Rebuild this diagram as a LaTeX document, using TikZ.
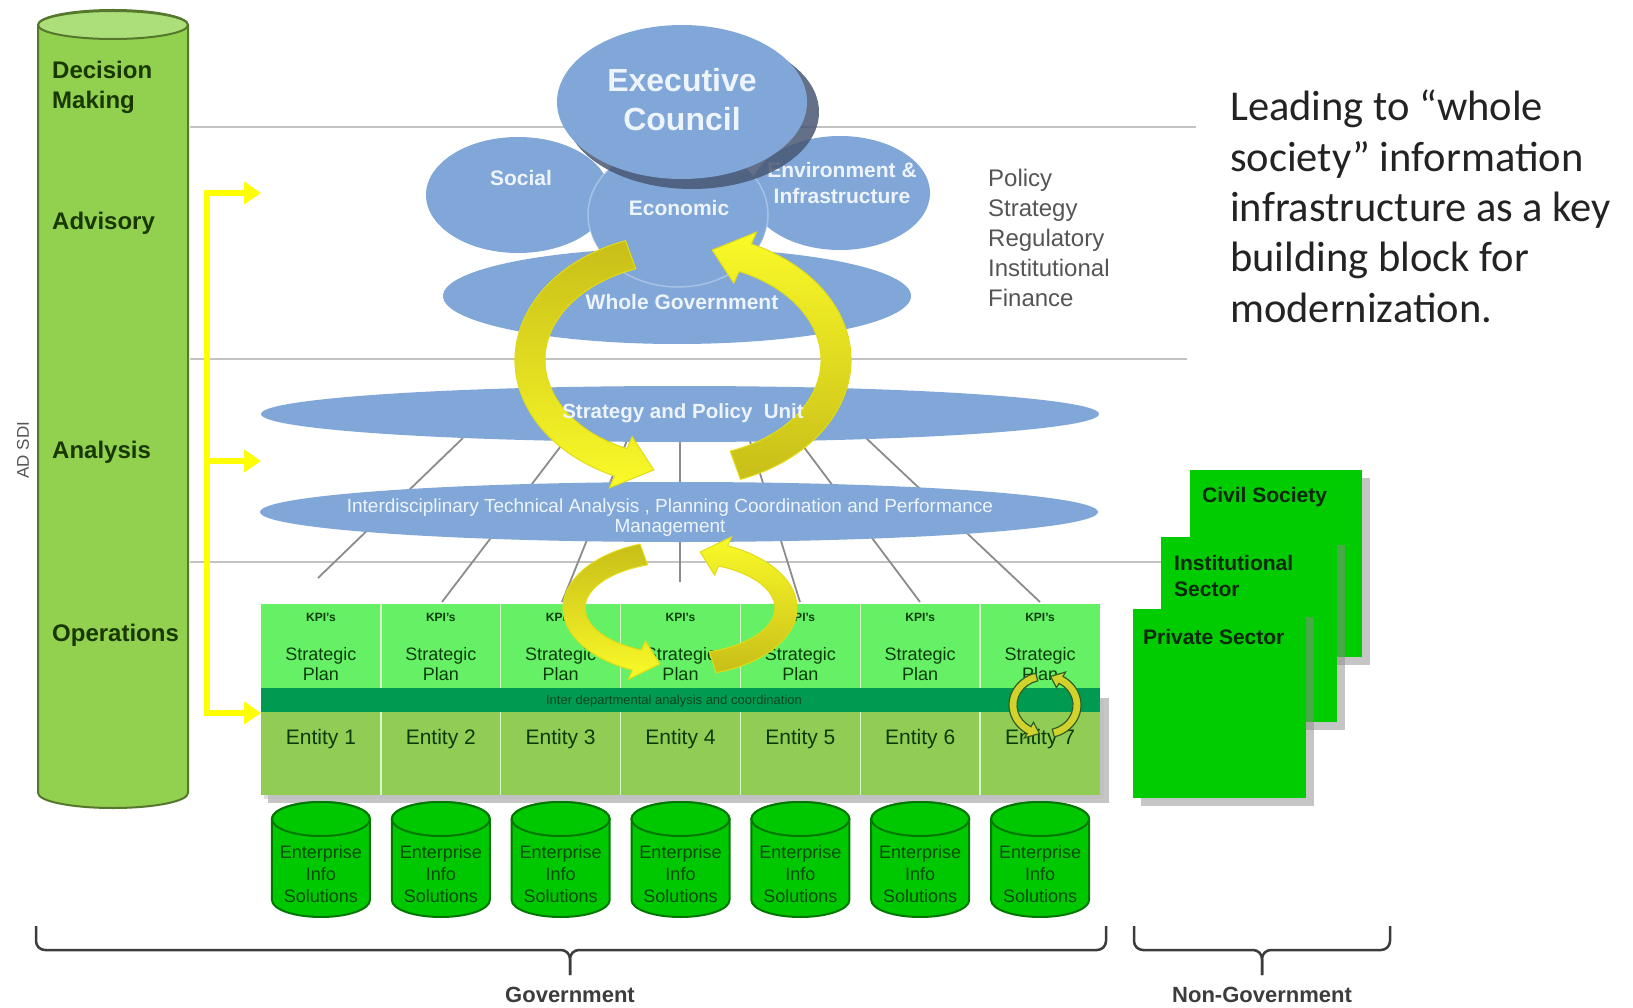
\documentclass[tikz,border=0pt]{standalone}
\usepackage{fontspec}
\setmainfont{Liberation Sans}
\newfontfamily\calibfont{Carlito}
\usetikzlibrary{shapes.geometric,arrows.meta}
\definecolor{bluec}{RGB}{128,167,216}
\definecolor{shadc}{RGB}{72,88,115}
\definecolor{wtc}{RGB}{238,244,252}
\definecolor{cylg}{RGB}{146,208,80}
\definecolor{cyltop}{RGB}{172,222,122}
\definecolor{cyledge}{RGB}{85,120,45}
\definecolor{lvlc}{RGB}{25,55,0}
\definecolor{kpig}{RGB}{102,240,102}
\definecolor{bandg}{RGB}{0,155,80}
\definecolor{entg}{RGB}{145,205,85}
\definecolor{tabtxt}{RGB}{10,60,10}
\definecolor{entb}{RGB}{0,200,0}
\definecolor{entedge}{RGB}{0,120,0}
\definecolor{enttxt}{RGB}{0,75,0}
\definecolor{ngg}{RGB}{0,204,0}
\definecolor{ngtxt}{RGB}{10,40,10}
\definecolor{yel}{RGB}{255,255,0}
\definecolor{yelb}{RGB}{250,250,40}
\definecolor{oliveY}{RGB}{200,190,25}
\definecolor{yedge}{RGB}{225,220,20}
\definecolor{sepc}{RGB}{195,195,195}
\definecolor{fanc}{RGB}{140,140,140}
\definecolor{polc}{RGB}{85,85,85}
\definecolor{leadc}{RGB}{35,35,35}
\definecolor{bracec}{RGB}{60,60,60}
\newcommand{\fsz}[2]{\fontsize{#1}{#2}\selectfont}
\newcommand{\ysetarc}[4]{%
 \pgfmathsetmacro\ROx{#1+#3}\pgfmathsetmacro\ROy{#2+#3}%
 \pgfmathsetmacro\RIx{#1-#3}\pgfmathsetmacro\RIy{#2-#3}%
 \pgfmathsetmacro\RHx{#1+#4}\pgfmathsetmacro\RHy{#2+#4}%
 \pgfmathsetmacro\RJx{#1-#4}\pgfmathsetmacro\RJy{#2-#4}%
 \pgfmathsetmacro\RMx{#1}\pgfmathsetmacro\RMy{#2}}
\newcommand{\yarrowshape}[3]{(xy polar cs:angle=#1,x radius=\ROx,y radius=\ROy) arc[start angle=#1,end angle=#2,x radius=\ROx,y radius=\ROy] -- (xy polar cs:angle=#2,x radius=\RHx,y radius=\RHy) -- (xy polar cs:angle=#3,x radius=\RMx,y radius=\RMy) -- (xy polar cs:angle=#2,x radius=\RJx,y radius=\RJy) -- (xy polar cs:angle=#2,x radius=\RIx,y radius=\RIy) arc[start angle=#2,end angle=#1,x radius=\RIx,y radius=\RIy] -- cycle}
\begin{document}
\begin{tikzpicture}[x=1pt,y=-1pt,
  sepline/.style={draw=sepc, line width=2pt},
  fanline/.style={draw=fanc, line width=1.8pt},
  lvltext/.style={font=\bfseries\fsz{24}{30}, text=lvlc, inner sep=0pt, align=left, anchor=west},
  wtext/.style={font=\bfseries\fsz{21}{26}, text=wtc, align=center, inner sep=0pt},
  ybr/.style={draw=yel, line width=6pt},
  ytip/.style={-{Triangle[length=17pt,width=22pt]}},
  bigL/.style={top color=oliveY, bottom color=yelb, draw=yedge, line width=1pt},
  bigR/.style={top color=yelb, bottom color=oliveY, draw=yedge, line width=1pt},
  tinyA/.style={fill={rgb,255:red,210;green,210;blue,45}, draw={rgb,255:red,50;green,95;blue,40}, line width=1.2pt},
  colsep/.style={draw={rgb,255:red,215;green,250;blue,200}, line width=1.5pt},
  tabtext/.style={text=tabtxt, align=center, inner sep=0pt},
  enttext/.style={text=enttxt, align=center, inner sep=0pt, font=\fsz{18}{22}},
  ngbox/.style={fill=ngg, draw=none},
  ngshadow/.style={fill=black!45, opacity=0.5},
  ngtext/.style={text=ngtxt, font=\bfseries\fsz{21}{26}, align=left, inner sep=0pt, anchor=west},
  brace/.style={draw=bracec, line width=2.5pt, rounded corners=9pt},
  bracelabel/.style={text=bracec, font=\bfseries\fsz{22}{26}, inner sep=0pt}]
\useasboundingbox (0,0) rectangle (1633,1008);
\fill[white] (0,0) rectangle (1633,1008);

% horizontal level separators
\draw[sepline] (190,127) -- (1196,127);
\draw[sepline] (190,359) -- (1187,359);
\draw[sepline] (190,562) -- (1165,562);

% left level cylinder
\filldraw[fill=cylg, draw=cyledge, line width=2pt] (38,25) -- (38,793) arc[start angle=180,end angle=0,x radius=75,y radius=15] -- (188,25) arc[start angle=0,end angle=-180,x radius=75,y radius=15] -- cycle;
\filldraw[fill=cyltop, draw=cyledge, line width=2pt] (113,25) ellipse[x radius=75,y radius=14];
\node[lvltext] (dm) at (52,87) {Decision\\Making};
\node[lvltext] (adv) at (52,223) {Advisory};
\node[lvltext] (ana) at (52,452) {Analysis};
\node[lvltext] (ops) at (52,635) {Operations};
\node[rotate=90, text=polc, font=\fsz{17}{20}, inner sep=0pt] (adsdi) at (23,450) {AD SDI};

% yellow bracket
\coordinate (bt) at (207,193);
\coordinate (bm) at (207,461);
\coordinate (bb) at (207,713);
\coordinate (at1) at (261,193);
\coordinate (at2) at (261,461);
\coordinate (at3) at (261,713);
\draw[ybr, {Triangle[length=17pt,width=22pt]}-{Triangle[length=17pt,width=22pt]}] (at1) -- (bt) -- (bb) -- (at3);
\draw[ybr, ytip] (bm) -- (at2);

% upper blue cluster
\fill[bluec] (677,296) ellipse[x radius=234,y radius=48];
\fill[bluec] (518,195) ellipse[x radius=92,y radius=58];
\fill[bluec] (840,193) ellipse[x radius=90,y radius=57];
\node[wtext] (env) at (842,183) {Environment \&\\Infrastructure};
\filldraw[fill=bluec, draw=white, draw opacity=0.3, line width=1.5pt] (678,215) ellipse[x radius=90,y radius=72];
\fill[shadc, opacity=0.85] (692,112) ellipse[x radius=127,y radius=77];
\fill[bluec] (682,102) ellipse[x radius=125,y radius=77];

% fan lines from strategy unit to entity columns
\coordinate (fa1) at (463,438); \coordinate (fb1) at (318,578);
\coordinate (fa2) at (567,438); \coordinate (fb2) at (442,602);
\coordinate (fa3) at (628,438); \coordinate (fb3) at (562,602);
\coordinate (fa4) at (680,438); \coordinate (fb4) at (680,582);
\coordinate (fa5) at (749,438); \coordinate (fb5) at (800,602);
\coordinate (fa6) at (797,438); \coordinate (fb6) at (920,602);
\coordinate (fa7) at (866,438); \coordinate (fb7) at (1040,602);
\foreach \k in {1,...,7} {\draw[fanline] (fa\k) -- (fb\k);}

% strategy and interdisciplinary ellipses
\fill[bluec] (680,414) ellipse[x radius=419,y radius=28];
\fill[bluec] (679,512) ellipse[x radius=419,y radius=30];

% big cycle arrows
\begin{scope}[shift={(683,360)}]
  \ysetarc{153}{112}{15}{28}
  \shadedraw[bigL] \yarrowshape{250}{114}{101};
  \shadedraw[bigR] \yarrowshape{70}{-66}{-79};
\end{scope}

% blue texts
\node[wtext] (soc) at (521,178) {Social};
\node[wtext] (eco) at (679,208) {Economic};
\node[wtext] (whole) at (682,302) {Whole Government};
\node[wtext, font=\bfseries\fsz{32}{39}] (exec) at (682,100) {Executive\\Council};
\node[wtext, font=\bfseries\fsz{20.5}{24}] (spu) at (683,413) {Strategy and Policy\ \ Unit};
\node[wtext, font=\fsz{19}{20}] (itap) at (670,518) {Interdisciplinary Technical Analysis , Planning Coordination and Performance\\Management};

% policy list
\node[anchor=north west, align=left, text=polc, font=\fsz{24}{30}, inner sep=0pt] (pol) at (988,169) {Policy\\Strategy\\Regulatory\\Institutional\\Finance};

% lead text
\node[anchor=north west, align=left, text=leadc, font=\calibfont\fsz{42.5}{50.3}, inner sep=0pt] (lead) at (1230,90) {Leading to “whole\\society” information\\infrastructure as a key\\building block for\\modernization.};

% entity table
\fill[black!45, opacity=0.5] (268,698) rectangle (1109,803);
\fill[black!25, opacity=0.5] (264,700) rectangle (1104,799);
\fill[kpig] (261,604) rectangle (1100,688);
\fill[bandg] (261,688) rectangle (1100,712);
\fill[entg] (261,712) rectangle (1100,795);
\foreach \i in {1,...,6} {
  \pgfmathsetmacro\sx{261+119.857*\i}
  \draw[colsep] (\sx,604) -- (\sx,688);
  \draw[colsep] (\sx,712) -- (\sx,795);
}
\foreach \i in {1,...,7} {
  \pgfmathsetmacro\cx{261+119.857*(\i-0.5)}
  \node[tabtext, font=\bfseries\fsz{12}{15}] (kpi\i) at (\cx,617) {KPI's};
  \node[tabtext, font=\fsz{18}{20}] (sp\i) at (\cx,664) {Strategic\\Plan};
  \node[tabtext, font=\fsz{21}{24}] (ent\i) at (\cx,739) {Entity \i};
}
\node[text={rgb,255:red,10;green,70;blue,35}, font=\fsz{13}{15}, inner sep=0pt] (band) at (674,701) {Inter departmental analysis and coordination};

% small cycle arrows
\begin{scope}[shift={(680,608)}]
  \ysetarc{106}{57}{11}{21}
  \shadedraw[bigL] \yarrowshape{250}{114}{101};
  \shadedraw[bigR] \yarrowshape{72}{-66}{-79};
\end{scope}
% tiny cycle in entity 7
\begin{scope}[shift={(1045,705)}]
  \ysetarc{32}{29}{4}{9}
  \filldraw[tinyA] \yarrowshape{255}{120}{100};
  \filldraw[tinyA] \yarrowshape{75}{-60}{-80};
\end{scope}

% enterprise info cylinders
\foreach \i in {1,...,7} {
  \pgfmathsetmacro\cx{261+119.857*(\i-0.5)}
  \pgfmathsetmacro\lx{\cx-49}
  \pgfmathsetmacro\rx{\cx+49}
  \filldraw[fill=entb, draw=entedge, line width=2pt] (\lx,819) -- (\lx,900) arc[start angle=180,end angle=0,x radius=49,y radius=17] -- (\rx,819) arc[start angle=0,end angle=-180,x radius=49,y radius=17] -- cycle;
  \filldraw[fill=entb, draw=entedge, line width=2pt] (\cx,819) ellipse[x radius=49,y radius=17];
  \node[enttext] (eis\i) at (\cx,874) {Enterprise\\Info\\Solutions};
}

% non-government boxes
\fill[ngshadow] (1198,478) rectangle (1370,665);
\fill[ngbox] (1190,470) rectangle (1362,657);
\fill[ngshadow] (1169,545) rectangle (1345,730);
\fill[ngbox] (1161,537) rectangle (1337,722);
\fill[ngshadow] (1141,617) rectangle (1314,806);
\fill[ngbox] (1133,609) rectangle (1306,798);
\node[ngtext] (civ) at (1202,497) {Civil Society};
\node[ngtext] (inst) at (1174,576) {Institutional\\Sector};
\node[ngtext] (priv) at (1143,637) {Private Sector};

% braces
\draw[brace] (36,926) -- (36,950) -- (570,950) -- (570,975);
\draw[brace] (570,975) -- (570,950) -- (1106,950) -- (1106,926);
\draw[brace] (1134,926) -- (1134,950) -- (1262,950) -- (1262,975);
\draw[brace] (1262,975) -- (1262,950) -- (1390,950) -- (1390,926);
\node[bracelabel] (gov) at (570,995) {Government};
\node[bracelabel] (ngov) at (1262,995) {Non-Government};
\end{tikzpicture}
\end{document}
